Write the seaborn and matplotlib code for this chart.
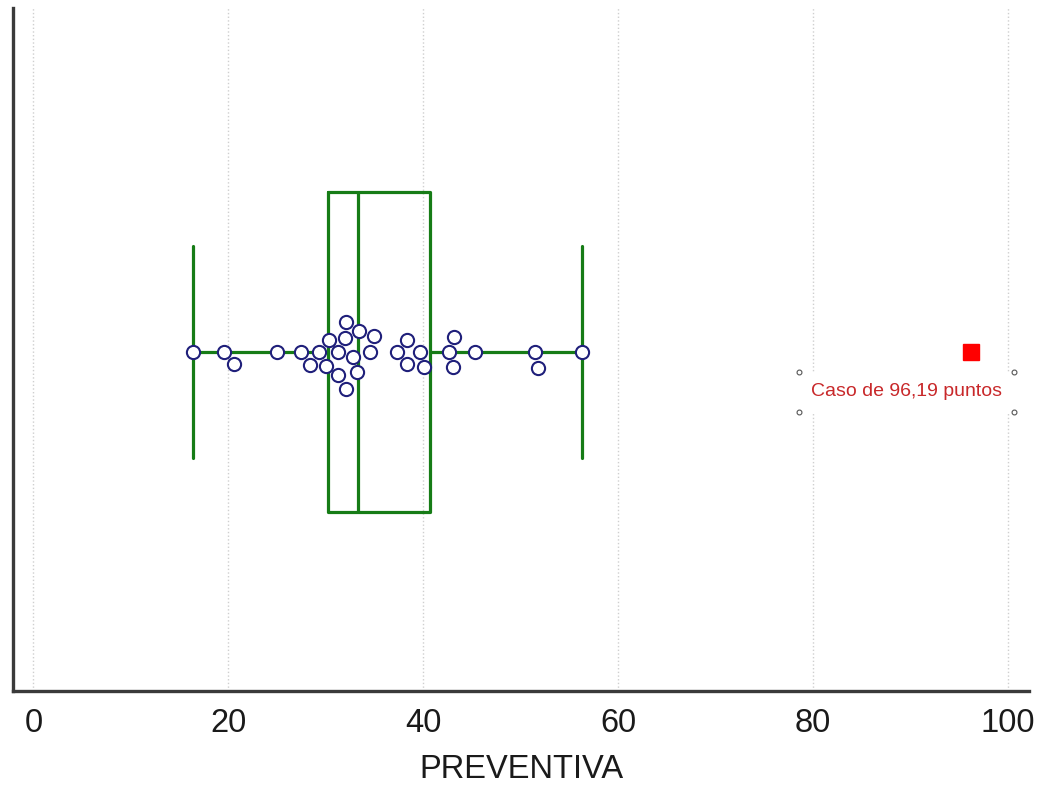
import matplotlib
matplotlib.use("Agg")
import matplotlib.pyplot as plt
from matplotlib.ticker import MultipleLocator
import seaborn as sns
import numpy as np

# Data
preventiva = [16.4, 19.6, 20.6, 25.0, 27.5, 28.4, 29.3, 30.0, 30.3, 31.3, 31.3,
              32.0, 32.1, 32.1, 32.8, 33.2, 33.4, 34.5, 34.9, 37.3, 38.3, 38.3,
              39.7, 40.1, 42.6, 43.1, 43.2, 45.3, 51.5, 51.8, 56.3]
outlier = 96.19
all_values = preventiva + [outlier]
x_label = "PREVENTIVA"
x_ticks = [0, 20, 40, 60, 80, 100]

sns.set_style("white")
plt.rcParams["font.family"] = ["Liberation Sans", "DejaVu Sans"]

W, H = 1039, 787
fig = plt.figure(figsize=(W / 100, H / 100), dpi=100)
left, right, top, bottom = 13.3, 1029.3, 8.3, 691
ax = fig.add_axes([left / W, 1 - bottom / H, (right - left) / W, (bottom - top) / H])

green = "#167c16"
navy = "#1f1f7a"

sns.boxplot(x=all_values, orient="h", ax=ax, fill=False, color=green,
            linecolor=green, linewidth=2.3, whis=2.0, width=0.8,
            capwidths=0.53,
            flierprops=dict(marker="s", markerfacecolor="#ff0000",
                            markeredgecolor="#ff0000", markersize=11))

sns.swarmplot(x=preventiva, orient="h", ax=ax, color="white",
              edgecolor=navy, linewidth=1.5, size=9.5, zorder=5)

ax.set_xlim(-2.07, 102.2)
ax.set_ylim(0.8475, -0.859)
ax.set_yticks([])

ax.set_xticks(x_ticks)
ax.xaxis.set_minor_locator(MultipleLocator(10))
ax.tick_params(axis="x", which="major", direction="in", length=12, width=2,
               color="#3a3a3a", labelsize=23.5, pad=12, labelcolor="#1a1a1a")
ax.tick_params(axis="x", which="minor", direction="in", length=5.5, width=1.5,
               color="#3a3a3a")
ax.grid(axis="x", which="major", color="#cfcfcf", linestyle=":", linewidth=1)
ax.set_axisbelow(True)

for s in ["top", "right"]:
    ax.spines[s].set_visible(False)
for s in ["left", "bottom"]:
    ax.spines[s].set_color("#3a3a3a")
    ax.spines[s].set_linewidth(2.4)

ax.set_xlabel(x_label, fontsize=23.5, color="#1a1a1a", labelpad=11)

label = "Caso de {:.2f} puntos".format(outlier).replace(".", ",")
txt = ax.text(89.6, 0.1, label, ha="center", va="center", fontsize=14,
              color="#c8282a", zorder=6,
              bbox=dict(facecolor="white", edgecolor="none",
                        boxstyle="square,pad=0.6"))

fig.canvas.draw()
bb = txt.get_bbox_patch().get_window_extent()
inv = ax.transData.inverted()
corners = inv.transform([[bb.x0, bb.y0], [bb.x1, bb.y0], [bb.x0, bb.y1], [bb.x1, bb.y1]])
ax.plot(corners[:, 0], corners[:, 1], linestyle="none", marker="o",
        markersize=3.5, markerfacecolor="white", markeredgecolor="#555555",
        markeredgewidth=0.8, zorder=7, clip_on=False)

fig.savefig("out.png", dpi=100, facecolor="white")
